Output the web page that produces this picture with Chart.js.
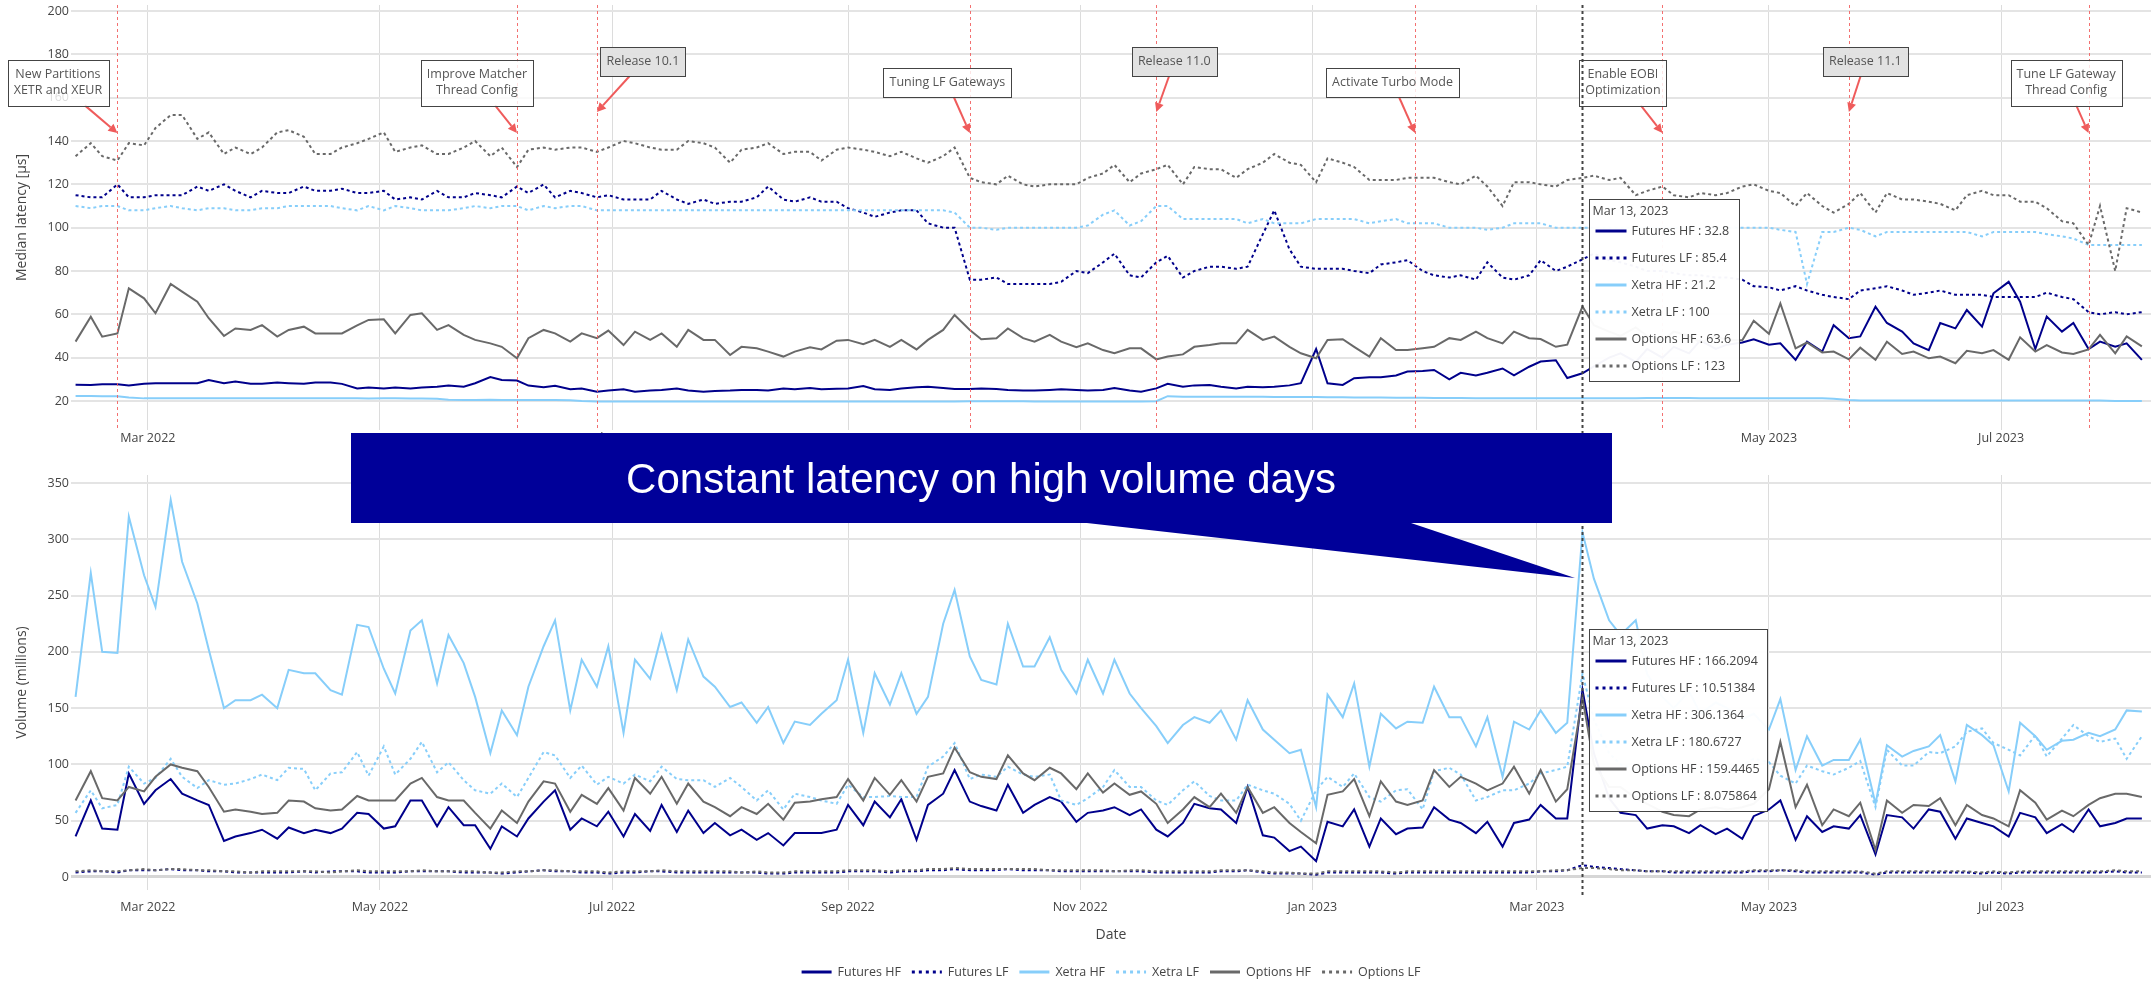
<!DOCTYPE html>
<html>
<head>
<meta charset="utf-8">
<title>Latency and volume</title>
<script src="https://cdn.jsdelivr.net/npm/chart.js@4.4.0/dist/chart.umd.min.js"></script>
<style>
  html, body { margin: 0; padding: 0; background: #fff; overflow: hidden; }
  #wrap { position: relative; width: 2151px; height: 984px; }
  #top { position: absolute; left: 0; top: 0; }
  #bottom { position: absolute; left: 0; top: 460px; }
  #overlay { position: absolute; left: 0; top: 0; pointer-events: none; }
</style>
</head>
<body>
<div id="wrap">
  <canvas id="top" width="2151" height="460"></canvas>
  <canvas id="bottom" width="2151" height="524"></canvas>
  <canvas id="overlay" width="2151" height="984"></canvas>
</div>
<script>
// --- DATA ---
const seriesNames = ['Futures HF', 'Futures LF', 'Xetra HF', 'Xetra LF', 'Options HF', 'Options LF'];

// Trading days sampled twice a week (Mon / Thu)
const dates = [
  '2022-02-10','2022-02-14','2022-02-17','2022-02-21','2022-02-24','2022-02-28','2022-03-03','2022-03-07','2022-03-10','2022-03-14',
  '2022-03-17','2022-03-21','2022-03-24','2022-03-28','2022-03-31','2022-04-04','2022-04-07','2022-04-11','2022-04-14','2022-04-18',
  '2022-04-21','2022-04-25','2022-04-28','2022-05-02','2022-05-05','2022-05-09','2022-05-12','2022-05-16','2022-05-19','2022-05-23',
  '2022-05-26','2022-05-30','2022-06-02','2022-06-06','2022-06-09','2022-06-13','2022-06-16','2022-06-20','2022-06-23','2022-06-27',
  '2022-06-30','2022-07-04','2022-07-07','2022-07-11','2022-07-14','2022-07-18','2022-07-21','2022-07-25','2022-07-28','2022-08-01',
  '2022-08-04','2022-08-08','2022-08-11','2022-08-15','2022-08-18','2022-08-22','2022-08-25','2022-08-29','2022-09-01','2022-09-05',
  '2022-09-08','2022-09-12','2022-09-15','2022-09-19','2022-09-22','2022-09-26','2022-09-29','2022-10-03','2022-10-06','2022-10-10',
  '2022-10-13','2022-10-17','2022-10-20','2022-10-24','2022-10-27','2022-10-31','2022-11-03','2022-11-07','2022-11-10','2022-11-14',
  '2022-11-17','2022-11-21','2022-11-24','2022-11-28','2022-12-01','2022-12-05','2022-12-08','2022-12-12','2022-12-15','2022-12-19',
  '2022-12-22','2022-12-26','2022-12-29','2023-01-02','2023-01-05','2023-01-09','2023-01-12','2023-01-16','2023-01-19','2023-01-23',
  '2023-01-26','2023-01-30','2023-02-02','2023-02-06','2023-02-09','2023-02-13','2023-02-16','2023-02-20','2023-02-23','2023-02-27',
  '2023-03-02','2023-03-06','2023-03-09','2023-03-13','2023-03-16','2023-03-20','2023-03-23','2023-03-27','2023-03-30','2023-04-03',
  '2023-04-06','2023-04-10','2023-04-13','2023-04-17','2023-04-20','2023-04-24','2023-04-27','2023-05-01','2023-05-04','2023-05-08',
  '2023-05-11','2023-05-15','2023-05-18','2023-05-22','2023-05-25','2023-05-29','2023-06-01','2023-06-05','2023-06-08','2023-06-12',
  '2023-06-15','2023-06-19','2023-06-22','2023-06-26','2023-06-29','2023-07-03','2023-07-06','2023-07-10','2023-07-13','2023-07-17',
  '2023-07-20','2023-07-24','2023-07-27','2023-07-31','2023-08-03','2023-08-07'
];

// Median latency [us]
const latFuturesHF = [
  27.5,27.4,27.7,27.7,27.2,28.0,28.2,28.2,28.2,28.2, 29.7,28.2,29.0,27.9,27.9,28.5,28.2,27.9,28.5,28.5,
  27.9,25.8,26.2,25.8,26.2,25.8,26.2,26.6,27.1,26.6, 28.2,31.0,29.7,29.4,27.1,26.3,27.0,25.4,25.8,24.3,
  24.8,25.4,24.3,24.8,25.1,25.8,24.8,24.3,24.6,24.8, 25.1,25.1,24.8,25.8,25.4,26.0,25.4,25.7,25.8,26.9,
  25.4,25.1,25.8,26.3,26.6,26.0,25.5,25.5,25.8,25.5, 25.1,24.8,24.8,25.1,25.4,25.1,24.8,25.1,26.0,24.8,
  24.3,25.8,27.9,26.6,27.2,27.4,26.6,25.8,26.6,26.3, 26.6,27.2,28.2,44.0,28.2,27.4,30.5,31.0,31.0,31.8,
  33.6,33.8,34.3,30.0,33.0,31.8,33.0,35.0,31.8,35.8, 38.2,38.8,30.6,32.8,36.0,40.0,42.0,38.0,44.0,40.0,
  45.0,42.0,48.0,44.0,46.0,47.0,48.5,46.0,46.6,39.0, 47.4,42.8,55.0,49.0,49.8,63.5,56.0,52.0,46.6,43.5,
  56.0,53.5,62.0,54.3,69.7,75.0,65.8,44.0,59.0,52.0, 56.0,44.0,47.4,45.0,46.6,39.0
];
const latFuturesLF = [
  115,114,114,120,114,114,115,115,115,119, 117,120,117,114,117,116,116,119,117,117,
  118,116,116,117,113,114,113,117,114,114, 116,115,114,119,116,120,114,117,116,114,
  115,113,113,113,117,113,111,113,111,112, 112,114,119,113,112,114,112,112,109,107,
  105,107,108,108,102,100,100,76,76,77, 74,74,74,74,75,80,79,84,88,78,
  77,84,87,77,80,82,82,81,82,97, 108,90,82,81,81,81,80,79,83,84,
  85,80,78,77,78,76,84,77,76,78, 85,80,82,85.4,88,85,84,82,80,80,
  79,78,78,77,77,76,73,72.5,71,73, 71,69,68,67,71,72,73,71,69,70,
  71,69,69,69,68,68,68,68,70,68, 67,61,60,61,60,61
];
const latXetraHF = [
  22.3,22.3,22.2,22.2,21.6,21.2,21.2,21.3,21.2,21.2, 21.2,21.3,21.2,21.2,21.2,21.3,21.2,21.2,21.2,21.2,
  21.2,21.2,21.1,21.2,21.2,21.1,21.1,21.0,20.6,20.5, 20.5,20.6,20.5,20.5,20.5,20.4,20.4,20.3,20.0,19.8,
  19.8,19.8,19.8,19.7,19.8,19.8,19.8,19.8,19.8,19.8, 19.8,19.8,19.8,19.8,19.8,19.8,19.8,19.8,19.8,19.8,
  19.8,19.8,19.8,19.8,19.8,19.8,19.8,19.9,19.9,19.9, 19.9,19.9,19.8,19.8,19.8,19.8,19.8,19.8,19.8,19.8,
  19.8,19.9,22.2,22.0,22.0,22.0,22.0,22.0,21.9,21.9, 21.8,21.8,21.8,21.8,21.7,21.7,21.6,21.6,21.6,21.5,
  21.5,21.5,21.4,21.4,21.4,21.3,21.3,21.3,21.2,21.2, 21.2,21.2,21.2,21.2,21.2,21.3,21.3,21.3,21.4,21.4,
  21.4,21.4,21.3,21.3,21.3,21.3,21.2,21.2,21.2,21.2, 21.2,21.2,21.0,20.4,20.2,20.2,20.2,20.2,20.2,20.2,
  20.2,20.2,20.2,20.2,20.2,20.2,20.2,20.2,20.2,20.2, 20.2,20.2,20.2,20.0,20.0,20.0
];
const latXetraLF = [
  110,109,110,110,108,108,109,110,109,108, 109,109,108,108,109,109,110,110,110,110,
  109,108,110,108,110,109,108,108,108,109, 110,109,110,110,108,110,109,110,110,108,
  108,108,108,108,108,108,108,108,108,108, 108,108,108,108,108,108,108,108,108,108,
  108,108,108,108,108,108,107,100,100,99, 100,100,100,100,100,100,101,106,108,101,
  103,110,110,104,104,104,104,104,102,104, 102,102,102,104,104,104,104,102,103,104,
  102,102,102,100,100,100,99,100,102,102, 102,100,100,100,100,100,100,100,100,100,
  100,100,100,100,100,100,100,100,99,98, 74,98,98,100,99,96,98,98,98,98,
  98,98,98,96,98,98,98,98,97,96, 95,92,92,92,92,92
];
const latOptionsHF = [
  47.4,58.9,49.7,51.2,72.0,67.4,60.5,74.0,70.5,65.8, 58.2,50.0,53.5,52.8,55.0,49.7,52.8,54.3,51.2,51.2,
  51.2,54.9,57.4,57.7,51.2,59.7,60.5,52.8,55.0,50.5, 48.2,46.6,45.0,39.7,49.0,52.8,51.2,47.4,51.2,49.0,
  52.5,45.8,52.0,48.2,51.2,45.0,52.8,48.2,48.2,41.2, 45.0,44.3,42.8,40.5,42.8,44.8,43.8,47.8,48.2,46.2,
  48.2,45.0,48.2,43.8,48.2,52.8,59.7,52.8,48.5,49.0, 53.5,49.0,47.4,50.5,47.4,44.8,46.6,43.5,42.0,44.3,
  44.3,39.2,40.5,41.5,45.0,45.8,46.6,46.6,52.8,48.2, 49.7,45.0,42.0,39.7,48.2,48.5,45.0,40.5,49.0,43.5,
  43.5,44.3,45.0,49.0,48.2,52.0,49.0,46.6,52.0,49.0, 48.6,45.0,46.0,63.6,55.0,52.0,50.0,54.0,50.0,48.0,
  52.0,50.0,47.0,50.0,48.0,48.0,57.0,51.0,65.0,44.3, 47.0,42.4,42.8,39.2,44.6,39.0,47.4,41.7,42.8,39.7,
  40.5,37.4,43.2,42.0,43.5,39.0,49.4,42.8,45.8,42.4, 41.7,43.8,50.5,42.0,49.8,45.2
];
const latOptionsLF = [
  133,139,133,131,139,138,146,152,152,141, 144,134,137,134,137,144,145,142,134,134,
  137,139,141,144,135,137,138,134,134,137, 140,133,137,128,136,137,136,137,137,135,
  137,140,139,137,136,136,140,139,137,130, 136,137,139,134,135,135,131,136,137,136,
  135,133,135,132,130,133,137,123,121,120, 124,120,119,120,120,120,123,125,129,121,
  125,127,129,120,128,127,127,123,127,130, 134,130,129,121,132,130,128,122,122,122,
  123,123,123,121,120,124,119,110,121,121, 120,119,122,123,124,122,123,115,117,119,
  115,114,116,115,116,119,120,117,116,110, 116,110,107,111,116,107,116,113,113,112,
  111,108,115,117,115,115,112,112,109,103, 102,92,110,80,109,107
];

// Volume (millions)
const volFuturesHF = [
  36,68,43,42,92,65,77,87,74,68, 64,32,36,39,42,34,44,39,42,39,
  43,57,56,43,45,68,68,45,62,46, 46,25,45,36,52,67,77,42,52,45,
  58,36,56,41,64,40,59,39,48,37, 42,33,39,28,39,39,39,42,64,46,
  67,53,69,33,64,74,95,67,63,59, 82,57,64,71,67,49,57,59,62,55,
  60,42,36,48,65,61,60,48,80,37, 35,23,27,14,49,45,60,27,52,38,
  43,44,62,51,48,39,49,27,48,51, 64,52,52,166.2094,110,70,57,55,43,46,
  45,39,46,38,43,34,54,60,68,33, 54,40,45,43,55,20,55,53,43,60,
  58,34,52,48,45,36,57,53,39,47, 40,60,45,48,52,52
];
const volFuturesLF = [
  4,5,5,4,6,6,6,7,6,6, 5,5,4,4,4,4,4,5,4,5,
  5,5,4,4,4,5,5,5,5,4, 4,4,3,4,5,6,5,5,4,4,
  3,4,4,5,5,4,4,4,4,4, 4,4,3,3,4,4,4,4,5,5,
  5,4,5,5,6,6,7,6,6,6, 7,6,6,6,5,5,5,5,5,5,
  5,4,4,4,4,4,5,5,6,4, 3,3,3,2,4,4,4,4,4,3,
  4,4,4,4,4,4,4,4,4,4, 5,5,6,10.51384,9,8,7,6,5,5,
  4,4,4,4,4,4,5,5,6,5, 4,4,4,4,4,2,4,4,4,4,
  4,4,4,3,4,3,4,4,4,4, 4,4,4,5,4,4
];
const volXetraHF = [
  160,270,200,199,320,268,240,335,280,243, 202,150,157,157,162,150,184,181,181,166,
  162,224,222,185,163,219,228,172,215,190, 160,110,148,126,169,205,228,148,193,169,
  205,128,193,176,215,166,211,178,169,151, 155,137,151,119,138,135,145,157,193,128,
  181,153,181,145,160,225,255,196,175,171, 225,187,187,213,184,163,193,163,193,163,
  150,134,119,135,142,137,148,122,157,131, 122,110,113,62,162,142,172,98,145,132,
  138,137,169,142,142,116,142,89,138,131, 148,128,137,306.1364,265,228,215,228,180,160,
  150,165,145,155,150,140,145,131,158,95, 125,99,104,104,122,65,117,107,112,116,
  126,85,135,126,117,76,137,125,113,121, 122,128,125,131,148,147
];
const volXetraLF = [
  57,77,61,64,98,83,88,105,89,79, 86,82,83,87,91,86,97,96,77,92,
  93,111,90,116,91,105,120,93,102,86, 77,74,83,71,88,111,108,88,99,82,
  89,83,91,85,98,87,86,86,80,88, 80,68,77,60,74,71,68,65,82,71,
  71,72,71,71,98,107,119,87,91,89, 98,91,89,91,68,64,70,80,95,80,
  80,68,64,77,85,72,68,68,82,77, 74,65,50,77,89,80,92,71,67,77,
  78,60,94,97,91,68,71,77,77,83, 92,95,98,180.6727,140,110,100,95,100,90,
  95,100,95,98,95,100,105,102,90,83, 99,94,91,97,103,62,113,99,99,111,
  110,116,129,132,119,113,108,126,107,123, 135,125,120,123,105,125
];
const volOptionsHF = [
  68,94,70,68,80,76,89,100,97,94, 80,58,60,58,56,57,68,67,61,59,
  60,72,68,68,68,83,88,71,68,68, 57,43,59,48,67,85,83,58,73,65,
  79,59,88,74,89,65,83,67,62,54, 62,56,65,51,66,67,69,71,87,68,
  88,73,86,67,89,92,115,93,89,87, 108,92,86,97,92,78,92,75,83,73,
  76,65,48,60,71,62,74,57,80,57, 62,48,40,30,73,76,87,54,85,67,
  64,68,95,80,89,83,77,83,98,74, 95,67,78,159.4465,100,80,80,70,65,58,
  55,54,60,62,60,62,65,78,120,62, 82,46,60,54,66,24,68,57,64,63,
  70,46,64,55,52,45,77,66,51,59, 54,64,70,74,74,71
];
const volOptionsLF = [
  5,6,5,5,6,7,6,7,7,6, 6,5,5,4,5,5,5,5,5,4,
  5,6,5,5,5,5,6,5,5,5, 5,4,4,5,5,6,6,5,5,5,
  4,5,5,5,6,5,5,5,5,5, 4,5,4,4,5,5,5,5,6,6,
  6,5,6,6,7,7,8,7,7,7, 7,7,7,6,6,6,6,6,5,6,
  6,5,5,5,5,5,6,6,6,5, 4,4,3,3,5,5,5,5,5,4,
  5,5,5,5,5,5,5,5,5,5, 5,6,6,8.075864,8,7,6,6,5,5,
  5,5,5,5,5,5,6,6,6,6, 5,5,5,5,5,3,5,5,5,5,
  5,5,5,4,5,4,5,5,5,5, 5,5,5,6,5,5
];

const latencyTicks = [20, 40, 60, 80, 100, 120, 140, 160, 180, 200];
const volumeTicks = [0, 50, 100, 150, 200, 250, 300, 350];
const monthTicks = ['2022-03-01','2022-05-01','2022-07-01','2022-09-01','2022-11-01',
                    '2023-01-01','2023-03-01','2023-05-01','2023-07-01'];

const eventDates = ['2022-02-21','2022-06-06','2022-06-27','2022-10-03','2022-11-21',
                    '2023-01-28','2023-04-03','2023-05-22','2023-07-24'];
const eventLabels = [
  ['New Partitions', 'XETR and XEUR'], ['Improve Matcher', 'Thread Config'], ['Release 10.1'],
  ['Tuning LF Gateways'], ['Release 11.0'], ['Activate Turbo Mode'],
  ['Enable EOBI', 'Optimization'], ['Release 11.1'], ['Tune LF Gateway', 'Thread Config']
];
const eventIsRelease = [false, false, true, false, true, false, false, true, false];

const hoverDate = '2023-03-13';
const calloutText = 'Constant latency on high volume days';

// --- STYLE / LAYOUT ---
const FONT = '"Open Sans", "DejaVu Sans", sans-serif';
const seriesColors = ['#00008B', '#00008B', '#87CEFA', '#87CEFA', '#696969', '#696969'];
const seriesDotted = [false, true, false, true, false, true];
const boxShiftX = [-59.5, -40, 46, -22.5, 18, -22.5, -39.5, 16.5, -22.5];
const arrowTipValue = { normal: 143.7, release: 153.4 };   // latency units
const X_MIN = -20.2, X_MAX = 526.4;                       // days since 2022-03-01

Chart.defaults.font.family = FONT;
Chart.defaults.font.size = 12.5;
Chart.defaults.color = '#444';

const MONTHS = ['Jan','Feb','Mar','Apr','May','Jun','Jul','Aug','Sep','Oct','Nov','Dec'];
const ORIGIN = Date.UTC(2022, 2, 1);
function parts(s) { return s.split('-').map(Number); }
function toDay(s) { const [y, m, d] = parts(s); return (Date.UTC(y, m - 1, d) - ORIGIN) / 86400000; }
function monthLabel(v) {
  const s = monthTicks.find(t => toDay(t) === v);
  if (!s) return '';
  const [y, m] = parts(s);
  return MONTHS[m - 1] + ' ' + y;
}
function fmtDate(s) { const [y, m, d] = parts(s); return MONTHS[m - 1] + ' ' + d + ', ' + y; }

const xDays = dates.map(toDay);
const hoverIdx = dates.indexOf(hoverDate);

function makeDatasets(list) {
  return list.map((vals, i) => ({
    label: seriesNames[i],
    data: vals.map((v, k) => ({ x: xDays[k], y: v })),
    borderColor: seriesColors[i],
    backgroundColor: seriesColors[i],
    borderWidth: 2,
    borderDash: seriesDotted[i] ? [3, 3] : [],
    pointRadius: 0,
    tension: 0,
    fill: false,
    order: list.length - i
  }));
}

function xAxis(height, tickPad, title) {
  return {
    type: 'linear', min: X_MIN, max: X_MAX,
    afterBuildTicks: a => { a.ticks = monthTicks.map(s => ({ value: toDay(s) })); },
    afterFit: a => { a.height = height; a.paddingLeft = 0; a.paddingRight = 0; },
    ticks: { autoSkip: false, maxRotation: 0, padding: tickPad, color: '#444', callback: v => monthLabel(v) },
    grid: { color: '#dcdcdc', lineWidth: 1, drawTicks: false },
    border: { display: false },
    title: title
      ? { display: true, text: title, color: '#444', font: { size: 14 }, padding: { top: 0, bottom: 40.6 } }
      : { display: false }
  };
}

function yAxis(min, max, ticks, title) {
  return {
    min: min, max: max,
    afterBuildTicks: a => { a.ticks = ticks.map(v => ({ value: v })); },
    afterFit: a => { a.width = 71; a.paddingTop = 0; a.paddingBottom = 0; },
    ticks: { padding: 2, color: '#444' },
    grid: {
      drawTicks: false,
      color: c => (c.tick && c.tick.value === 0 ? '#d6d6d6' : '#e4e4e4'),
      lineWidth: c => (c.tick && c.tick.value === 0 ? 3 : 2)
    },
    border: { display: false },
    title: { display: true, text: title, color: '#444', font: { size: 14 }, padding: { top: 13.6, bottom: 0 } }
  };
}

function drawSample(ctx, x0, x1, y, i) {
  ctx.save();
  ctx.strokeStyle = seriesColors[i];
  ctx.lineWidth = 3;
  ctx.setLineDash(seriesDotted[i] ? [3, 4] : []);
  ctx.beginPath(); ctx.moveTo(x0, y); ctx.lineTo(x1, y); ctx.stroke();
  ctx.restore();
}

function drawHoverLine(chart, y0, y1) {
  const { ctx, scales: { x } } = chart;
  const hx = Math.round(x.getPixelForValue(toDay(hoverDate))) + 0.5;
  ctx.save();
  ctx.strokeStyle = '#444'; ctx.lineWidth = 2; ctx.setLineDash([3, 3]);
  ctx.beginPath(); ctx.moveTo(hx, y0); ctx.lineTo(hx, y1); ctx.stroke();
  ctx.restore();
}

function drawHover(chart, series, top) {
  const { ctx, scales: { x } } = chart;
  const hx = x.getPixelForValue(toDay(hoverDate));
  ctx.save();
  ctx.font = '12.5px ' + FONT;
  const rows = series.map((s, i) => seriesNames[i] + ' : ' + s[hoverIdx]);
  const tw = Math.max(...rows.map(r => ctx.measureText(r).width));
  const left = Math.round(hx + 7) + 0.5, w = Math.round(tw + 50), h = 182, t = top + 0.5;
  ctx.fillStyle = 'rgba(255,255,255,0.96)'; ctx.fillRect(left, t, w, h);
  ctx.strokeStyle = '#444'; ctx.lineWidth = 1; ctx.strokeRect(left, t, w, h);
  ctx.fillStyle = '#444'; ctx.textAlign = 'left'; ctx.textBaseline = 'middle';
  ctx.fillText(fmtDate(hoverDate), left + 3, top + 12);
  rows.forEach((r, i) => {
    const cy = top + 32 + 27 * i;
    drawSample(ctx, left + 6, left + 37, cy, i);
    ctx.fillStyle = '#444';
    ctx.fillText(r, left + 42, cy);
  });
  ctx.restore();
}

function arrow(ctx, x0, y0, x1, y1) {
  const a = Math.atan2(y1 - y0, x1 - x0), L = 9, W = 4.5;
  const bx = x1 - L * Math.cos(a), by = y1 - L * Math.sin(a);
  ctx.beginPath(); ctx.moveTo(x0, y0); ctx.lineTo(bx, by); ctx.stroke();
  ctx.beginPath();
  ctx.moveTo(x1, y1);
  ctx.lineTo(bx - W * Math.sin(a), by + W * Math.cos(a));
  ctx.lineTo(bx + W * Math.sin(a), by - W * Math.cos(a));
  ctx.closePath(); ctx.fill();
}

const topPlugin = {
  id: 'topAnnotations',
  afterDraw(chart) {
    const { ctx, chartArea: ca, scales: { x, y } } = chart;
    ctx.save();
    // event markers
    ctx.strokeStyle = 'rgba(242,96,96,0.9)'; ctx.lineWidth = 1; ctx.setLineDash([3, 3]);
    eventDates.forEach(d => {
      const px = Math.round(x.getPixelForValue(toDay(d))) + 0.5;
      ctx.beginPath(); ctx.moveTo(px, ca.top); ctx.lineTo(px, ca.bottom); ctx.stroke();
    });
    // annotation boxes with arrows
    ctx.setLineDash([]);
    ctx.font = '12.5px ' + FONT;
    eventDates.forEach((d, i) => {
      const tipX = x.getPixelForValue(toDay(d));
      const tipY = y.getPixelForValue(eventIsRelease[i] ? arrowTipValue.release : arrowTipValue.normal);
      const lines = eventLabels[i];
      const w = Math.max(...lines.map(l => ctx.measureText(l).width)) + 12;
      const h = lines.length * 16.7 + 12.3;
      const cx = tipX + boxShiftX[i], cy = tipY - 50.5;
      const dx = tipX - cx, dy = tipY - cy;
      const tt = Math.min(dx !== 0 ? (w / 2) / Math.abs(dx) : Infinity, (h / 2) / Math.abs(dy));
      ctx.strokeStyle = '#EF5B5B'; ctx.fillStyle = '#EF5B5B'; ctx.lineWidth = 2;
      arrow(ctx, cx + dx * tt, cy + dy * tt, tipX, tipY);
      const bx = Math.round(cx - w / 2) + 0.5, by = Math.round(cy - h / 2) + 0.5;
      ctx.fillStyle = eventIsRelease[i] ? 'rgba(224,224,224,0.95)' : 'rgba(255,255,255,0.82)';
      ctx.fillRect(bx, by, Math.round(w), Math.round(h));
      ctx.strokeStyle = '#444'; ctx.lineWidth = 1;
      ctx.strokeRect(bx, by, Math.round(w), Math.round(h));
      ctx.fillStyle = '#555'; ctx.textAlign = 'center'; ctx.textBaseline = 'middle';
      lines.forEach((l, k) => ctx.fillText(l, cx, cy + (k - (lines.length - 1) / 2) * 16.7));
    });
    ctx.restore();
    drawHoverLine(chart, ca.top, chart.height);
    drawHover(chart, [latFuturesHF, latFuturesLF, latXetraHF, latXetraLF, latOptionsHF, latOptionsLF], 199);
  }
};

const bottomPlugin = {
  id: 'bottomAnnotations',
  afterDraw(chart) {
    const { ctx, chartArea: ca } = chart;
    drawHoverLine(chart, 0, ca.bottom + 7);
    drawHover(chart, [volFuturesHF, volFuturesLF, volXetraHF, volXetraLF, volOptionsHF, volOptionsLF], 169);
    // legend
    ctx.save();
    ctx.font = '12.5px ' + FONT;
    const widths = seriesNames.map(n => ctx.measureText(n).width);
    const total = widths.reduce((s, w) => s + w + 36, 0) + 11 * (seriesNames.length - 1);
    let lx = (ca.left + ca.right) / 2 - total / 2;
    const ly = 512;
    ctx.textAlign = 'left'; ctx.textBaseline = 'middle';
    seriesNames.forEach((n, i) => {
      drawSample(ctx, lx, lx + 30, ly, i);
      ctx.fillStyle = '#444';
      ctx.fillText(n, lx + 36, ly);
      lx += 36 + widths[i] + 11;
    });
    ctx.restore();
  }
};

const baseOptions = {
  responsive: false,
  animation: false,
  events: [],
  plugins: { legend: { display: false }, tooltip: { enabled: false } }
};

new Chart(document.getElementById('top'), {
  type: 'line',
  data: { datasets: makeDatasets([latFuturesHF, latFuturesLF, latXetraHF, latXetraLF, latOptionsHF, latOptionsLF]) },
  options: Object.assign({}, baseOptions, {
    layout: { padding: { top: 5, left: 0, right: 0, bottom: 0 } },
    scales: {
      x: xAxis(30, 0.5, null),
      y: yAxis(6.6, 202.8, latencyTicks, 'Median latency [\u03bcs]')
    }
  }),
  plugins: [topPlugin]
});

new Chart(document.getElementById('bottom'), {
  type: 'line',
  data: { datasets: makeDatasets([volFuturesHF, volFuturesLF, volXetraHF, volXetraLF, volOptionsHF, volOptionsLF]) },
  options: Object.assign({}, baseOptions, {
    layout: { padding: { top: 15, left: 0, right: 0, bottom: 0 } },
    scales: {
      x: xAxis(94, 9.5, 'Date'),
      y: yAxis(-11.55, 357.1, volumeTicks, 'Volume (millions)')
    }
  }),
  plugins: [bottomPlugin]
});

// --- CALLOUT ---
(function drawCallout() {
  const ctx = document.getElementById('overlay').getContext('2d');
  ctx.fillStyle = '#000099';
  ctx.fillRect(351, 433, 1261, 90);
  ctx.beginPath();
  ctx.moveTo(1078, 522); ctx.lineTo(1408, 522); ctx.lineTo(1575, 578); ctx.closePath();
  ctx.fill();
  ctx.fillStyle = '#fff';
  ctx.font = '42px "Liberation Sans", Arial, sans-serif';
  ctx.textAlign = 'center'; ctx.textBaseline = 'alphabetic';
  ctx.fillText(calloutText, 981, 493);
})();
</script>
</body>
</html>
